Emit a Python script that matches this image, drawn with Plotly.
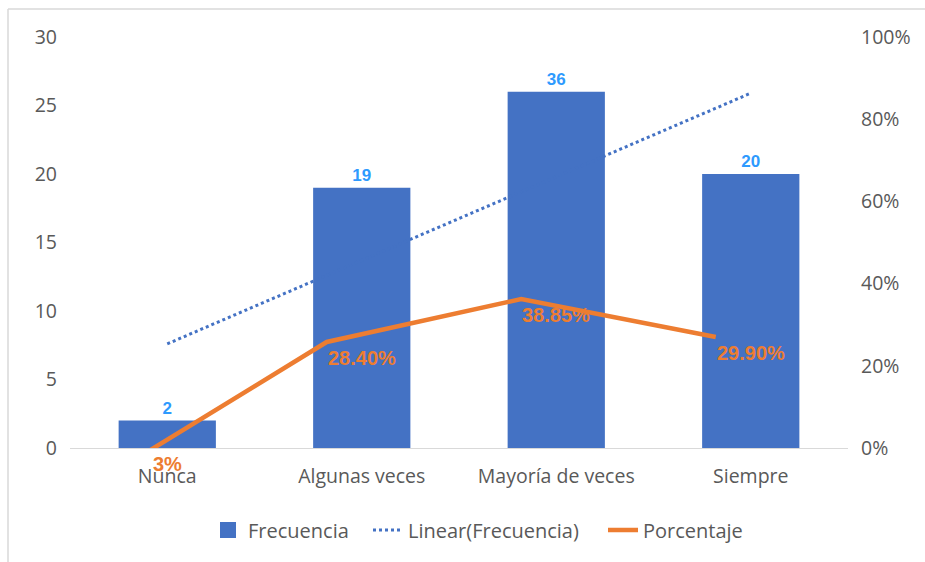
import numpy as np
import plotly.graph_objects as go

categories = ["Nunca", "Algunas veces", "Mayoría de veces", "Siempre"]
frecuencia = [2, 19, 26, 20]
frecuencia_labels = ["2", "19", "36", "20"]
# line vertices as drawn (Nunca vertex dips just below 0% and is clipped)
porcentaje_line = [-0.032, 0.258, 0.3625, 0.27]
# label anchor heights (read at the category centres)
porcentaje_label_y = [0.0, 0.258, 0.3625, 0.27]
porcentaje_labels = ["3%", "28.40%", "38.85%", "29.90%"]
left_ticks = [0, 5, 10, 15, 20, 25, 30]
right_ticks = [0, 0.2, 0.4, 0.6, 0.8, 1.0]
right_tick_labels = ["0%", "20%", "40%", "60%", "80%", "100%"]

# Excel-style linear trendline of Frecuencia
xi = np.arange(1, len(frecuencia) + 1)
slope, intercept = np.polyfit(xi, frecuencia, 1)
trend = list(slope * xi + intercept)

BLUE = "#4472C4"
ORANGE = "#ED7D31"
GRAY = "#595959"
FONT = "Open Sans"
FS = 19.5

W, H = 925, 562
L, R, T, B = 70, 77, 37, 114
pw, ph = W - L - R, H - T - B
n = len(categories)
line_shift = 35 / (pw / n)  # the line series sits slightly left of the bar centres


def px_x(p):
    return (p - L) / pw


def px_y(p):
    return (H - B - p) / ph


fig = go.Figure()
fig.add_trace(go.Bar(
    x=categories, y=frecuencia, name="Frecuencia", showlegend=False,
    marker=dict(color=BLUE, line=dict(width=0)),
    width=0.5,
    text=frecuencia_labels, textposition="outside",
    textfont=dict(color="#2E9AFE", size=17, family="Liberation Sans"),
    texttemplate="<b>%{text}</b>",
    cliponaxis=False, xaxis="x", yaxis="y",
))
# legend entry for the bars (larger square key, as in the reference)
fig.add_trace(go.Scatter(
    x=[None], y=[None], name="Frecuencia", mode="markers",
    marker=dict(symbol="square", size=16, color=BLUE),
    xaxis="x", yaxis="y", legend="legend",
))
fig.add_trace(go.Scatter(
    x=categories, y=trend, name="Linear(Frecuencia)", mode="lines",
    line=dict(color=BLUE, width=3, dash="dot"), xaxis="x", yaxis="y",
    legend="legend2",
))
fig.add_trace(go.Scatter(
    x=categories, y=porcentaje_line, name="Porcentaje", mode="lines",
    line=dict(color=ORANGE, width=4.5),
    cliponaxis=True, xaxis="x2", yaxis="y2", legend="legend3",
))

annotations = [
    dict(x=c, y=v, xref="x", yref="y2", text="<b>%s</b>" % t, showarrow=False,
         xanchor="center", yanchor="middle", yshift=-16,
         font=dict(color=ORANGE, size=20, family="Liberation Sans"))
    for c, v, t in zip(categories, porcentaje_label_y, porcentaje_labels)
]

leg_common = dict(orientation="h", yanchor="middle", y=px_y(530), xanchor="left",
                  font=dict(size=20, color=GRAY), itemwidth=30,
                  bgcolor="rgba(0,0,0,0)")
# text start positions in the reference: 250, 410, 645 px
fig.update_layout(
    width=W, height=H,
    margin=dict(l=L, r=R, t=T, b=B),
    paper_bgcolor="white", plot_bgcolor="white",
    font=dict(family=FONT, color=GRAY, size=FS),
    showlegend=True,
    legend=dict(leg_common, x=px_x(250 - 42)),
    legend2=dict(leg_common, x=px_x(410 - 42)),
    legend3=dict(leg_common, x=px_x(645 - 42)),
    xaxis=dict(showgrid=False, showline=True, linecolor="#D9D9D9", linewidth=1,
               range=[-0.5, n - 0.5],
               tickfont=dict(size=FS, color=GRAY), ticks="", ticklabelstandoff=11),
    xaxis2=dict(overlaying="x", visible=False, type="category",
                categoryarray=categories,
                range=[-0.5 + line_shift, n - 0.5 + line_shift]),
    yaxis=dict(range=[0, 30], tickvals=left_ticks, showgrid=False, zeroline=False,
               showline=False, tickfont=dict(size=FS, color=GRAY), ticklabelstandoff=12),
    yaxis2=dict(range=[0, 1], tickvals=right_ticks, ticktext=right_tick_labels,
                overlaying="y", side="right", showgrid=False, zeroline=False,
                showline=False, tickfont=dict(size=FS, color=GRAY), ticklabelstandoff=12),
    bargap=0.5,
    annotations=annotations,
    shapes=[
        dict(type="line", xref="paper", yref="paper", x0=px_x(8), x1=px_x(925),
             y0=px_y(9), y1=px_y(9), line=dict(color="#D9D9D9", width=1.5)),
        dict(type="line", xref="paper", yref="paper", x0=px_x(8), x1=px_x(8),
             y0=px_y(9), y1=px_y(562), line=dict(color="#D9D9D9", width=1.5)),
    ],
)

fig.write_html("out.html")
